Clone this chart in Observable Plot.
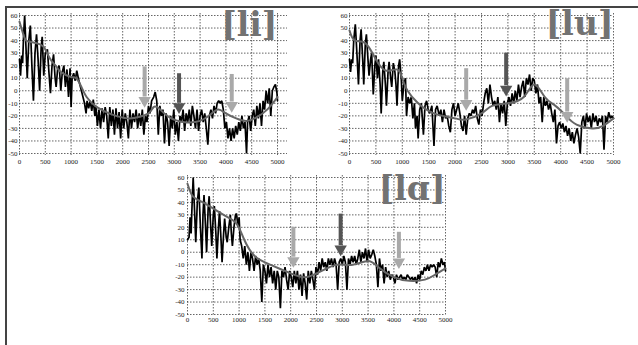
<!DOCTYPE html>
<html><head><meta charset="utf-8">
<script src="https://cdn.jsdelivr.net/npm/d3@7"></script>
<script src="https://cdn.jsdelivr.net/npm/@observablehq/plot@0.6"></script>
<style>
html,body{margin:0;padding:0;background:#fff;}
#wrap{position:relative;width:638px;height:345px;overflow:hidden;background:#fff;}
#wrap .p{position:absolute;}
#bt{position:absolute;left:5px;top:6px;width:633px;height:2px;background:#444;}
#bl{position:absolute;left:5px;top:6px;width:2px;height:339px;background:#444;}
</style></head>
<body><div id="wrap"><div id="bt"></div><div id="bl"></div></div>
<script>
const xTicks = [0,500,1000,1500,2000,2500,3000,3500,4000,4500,5000];
const yTicks = [-50,-40,-30,-20,-10,0,10,20,30,40,50,60];
const panelLabels = ["[li]", "[lu]", "[lɑ]"];

const liNoisy = [[0,25],[20,12],[40,28],[60,22],[80,45],[100,60],[130,30],[150,10],[180,40],[210,52],[240,20],[270,-8],[300,30],[330,45],[360,25],[390,0],[420,35],[440,43],[470,12],[500,30],[540,33],[570,15],[600,-2],[630,20],[660,29],[690,10],[710,3],[740,18],[770,20],[800,0],[830,15],[860,20],[890,3],[920,17],[950,-5],[980,18],[1000,-13],[1020,10],[1050,14],[1080,8],[1110,16],[1140,10],[1170,5],[1200,0],[1230,-5],[1260,-10],[1290,-18],[1310,-8],[1340,-14],[1370,-8],[1400,-16],[1430,-7],[1460,-20],[1480,-12],[1510,-28],[1540,-15],[1570,-30],[1600,-14],[1630,-25],[1660,-13],[1690,-20],[1720,-38],[1750,-13],[1780,-28],[1810,-15],[1840,-35],[1870,-14],[1900,-30],[1930,-17],[1960,-38],[1990,-15],[2020,-30],[2050,-18],[2080,-25],[2110,-38],[2140,-15],[2170,-30],[2200,-18],[2230,-25],[2260,-15],[2290,-30],[2320,-18],[2350,-28],[2380,-15],[2410,-35],[2440,-20],[2470,-25],[2500,-12],[2530,-18],[2560,-8],[2600,-5],[2630,-1],[2660,-8],[2690,-35],[2720,-12],[2750,-20],[2780,-15],[2810,-42],[2840,-18],[2870,-25],[2900,-44],[2930,-20],[2960,-30],[2990,-15],[3020,-35],[3050,-25],[3080,-40],[3110,-20],[3140,-25],[3170,-15],[3200,-32],[3230,-18],[3260,-25],[3290,-15],[3320,-28],[3350,-12],[3380,-20],[3410,-30],[3440,-15],[3470,-32],[3500,-20],[3530,-15],[3560,-25],[3590,-18],[3620,-30],[3650,-43],[3680,-20],[3710,-15],[3740,-22],[3770,-12],[3800,-18],[3830,-10],[3860,-8],[3890,-10],[3920,-8],[3950,-15],[3980,-30],[4010,-25],[4040,-38],[4070,-30],[4100,-40],[4130,-30],[4160,-38],[4190,-28],[4220,-35],[4250,-25],[4280,-32],[4310,-20],[4340,-30],[4370,-25],[4400,-50],[4420,-25],[4450,-20],[4480,-32],[4510,-20],[4540,-15],[4570,-28],[4600,-12],[4630,-22],[4660,-10],[4690,-28],[4720,-8],[4750,-15],[4780,0],[4810,-10],[4840,2],[4870,-20],[4900,0],[4930,3],[4960,5],[4990,-2],[5000,-8]];
const liSmooth = [[0,55],[100,42],[200,39],[400,37],[500,33],[600,25],[700,20],[800,15],[1000,11],[1100,10],[1200,3],[1300,-5],[1500,-13],[1800,-19],[2100,-22],[2300,-21],[2500,-18],[2600,-13],[2700,-14],[2900,-21],[3200,-25],[3500,-24],[3700,-19],[3850,-15],[4000,-18],[4200,-22],[4400,-24],[4600,-21],[4800,-15],[5000,-5]];
const liArrows = [[2425,19,-5,"light"],[3092,13.6,-10,"dark"],[4113,13,-9,"light"]];

const luNoisy = [[0,25],[20,15],[40,25],[60,22],[80,40],[110,53],[140,30],[170,5],[200,40],[220,49],[250,25],[270,5],[300,38],[320,45],[350,25],[370,12],[400,25],[420,30],[450,-3],[480,20],[500,28],[530,10],[550,25],[580,5],[600,-18],[630,15],[650,23],[680,5],[700,-12],[730,15],[750,23],[780,10],[800,3],[830,22],[860,15],[880,5],[900,-12],[930,20],[950,25],[980,10],[1000,-8],[1030,5],[1060,10],[1080,-20],[1110,-5],[1140,-10],[1170,-5],[1200,-22],[1230,-10],[1250,-30],[1280,-20],[1300,-38],[1330,-15],[1360,-10],[1400,-35],[1430,-12],[1460,-8],[1490,-15],[1520,-18],[1560,-12],[1600,-44],[1630,-15],[1660,-12],[1700,-20],[1730,-15],[1760,-25],[1790,-15],[1820,-22],[1850,-20],[1880,-28],[1910,-33],[1940,-15],[1970,-10],[2000,-20],[2030,-15],[2060,-10],[2090,-18],[2120,-28],[2150,-32],[2180,-20],[2210,-35],[2240,-22],[2270,-18],[2300,-20],[2330,-15],[2360,-18],[2390,-12],[2420,-22],[2450,-27],[2480,-15],[2510,-20],[2540,-10],[2570,-2],[2600,2],[2630,-10],[2660,5],[2690,-5],[2720,-12],[2750,-8],[2780,-15],[2810,-5],[2840,-25],[2870,-10],[2900,-18],[2930,-8],[2960,-28],[2990,-10],[3020,-5],[3050,-12],[3080,-2],[3110,-10],[3140,0],[3170,-8],[3200,5],[3230,-5],[3260,3],[3290,8],[3320,-5],[3350,10],[3380,5],[3410,13],[3440,0],[3470,10],[3500,8],[3530,-2],[3560,5],[3590,-10],[3620,-5],[3650,-25],[3680,-5],[3710,-12],[3740,-8],[3770,-15],[3800,-10],[3830,-18],[3860,-25],[3890,-15],[3920,-42],[3950,-28],[3980,-25],[4010,-30],[4040,-26],[4070,-33],[4100,-28],[4130,-36],[4160,-30],[4190,-40],[4220,-33],[4250,-42],[4280,-35],[4310,-30],[4340,-37],[4370,-50],[4400,-25],[4430,-20],[4460,-30],[4490,-18],[4520,-25],[4550,-20],[4580,-30],[4610,-18],[4640,-25],[4670,-20],[4700,-28],[4730,-22],[4760,-25],[4790,-20],[4820,-47],[4850,-20],[4880,-25],[4910,-17],[4940,-22],[4970,-20],[5000,-22]];
const luSmooth = [[0,48],[100,40],[300,38],[500,25],[700,16],[900,17],[1000,10],[1100,0],[1300,-10],[1600,-18],[2000,-22],[2200,-23],[2500,-18],[2700,-12],[3000,-10],[3300,-5],[3500,5],[3700,-5],[3900,-12],[4100,-20],[4300,-27],[4600,-30],[4800,-28],[5000,-22]];
const luArrows = [[2210,17.6,-7.5,"light"],[2967,30,4,"dark"],[4123,9.6,-17,"light"]];

const laNoisy = [[0,10],[30,12],[50,28],[70,15],[90,40],[110,60],[140,30],[160,8],[190,40],[220,52],[250,20],[280,-5],[300,30],[320,46],[350,20],[370,0],[400,35],[420,45],[450,20],[470,5],[500,30],[520,37],[550,15],[570,-5],[600,20],[620,33],[650,10],[670,-8],[700,15],[720,27],[750,12],[770,8],[800,20],[830,30],[850,15],[870,5],[900,20],[930,30],[950,31],[980,20],[1000,28],[1020,10],[1050,5],[1080,-5],[1110,5],[1140,-10],[1170,0],[1200,-15],[1230,0],[1260,-5],[1290,-15],[1320,-3],[1350,-10],[1380,-5],[1410,-15],[1440,-40],[1470,-10],[1500,-15],[1530,-25],[1560,-10],[1590,-20],[1620,-12],[1650,-25],[1680,-15],[1710,-30],[1740,-15],[1770,-20],[1800,-45],[1830,-15],[1860,-20],[1890,-12],[1920,-22],[1950,-30],[1980,-15],[2010,-20],[2040,-28],[2070,-15],[2100,-25],[2130,-15],[2160,-30],[2190,-18],[2220,-35],[2250,-17],[2280,-25],[2310,-38],[2340,-15],[2370,-25],[2400,-15],[2430,-22],[2460,-30],[2490,-12],[2520,-18],[2550,-8],[2580,-15],[2610,-5],[2640,-12],[2670,-8],[2700,-15],[2730,-5],[2760,-10],[2790,-5],[2820,-12],[2850,-5],[2880,-10],[2910,-30],[2940,-8],[2970,-5],[3000,-10],[3030,-3],[3060,-8],[3090,-30],[3120,-5],[3150,-10],[3180,-3],[3210,-8],[3240,-3],[3270,-10],[3300,-5],[3330,2],[3360,-8],[3390,0],[3420,-5],[3450,3],[3480,-8],[3510,2],[3540,-5],[3570,-2],[3600,2],[3630,-3],[3660,-10],[3690,-28],[3720,-5],[3750,-15],[3780,-10],[3810,-25],[3840,-12],[3870,-20],[3900,-15],[3930,-22],[3960,-18],[3990,-20],[4020,-25],[4050,-18],[4080,-22],[4110,-20],[4140,-18],[4170,-22],[4200,-20],[4230,-22],[4260,-18],[4290,-20],[4320,-22],[4350,-20],[4380,-23],[4410,-20],[4440,-25],[4470,-18],[4500,-22],[4530,-15],[4560,-18],[4590,-12],[4620,-15],[4650,-10],[4680,-15],[4710,-10],[4740,-12],[4770,-10],[4800,-12],[4830,-20],[4860,-8],[4890,-12],[4920,-5],[4950,-10],[4980,-8],[5000,-15]];
const laSmooth = [[0,55],[100,45],[300,40],[700,30],[950,23],[1100,10],[1300,-3],[1600,-10],[2000,-17],[2300,-20],[2600,-15],[2900,-10],[3200,-10],[3500,-7],[3700,-12],[4000,-20],[4300,-23],[4600,-22],[4800,-18],[5000,-13]];
const laArrows = [[2052,20,-4,"light"],[2968,30.6,5.3,"dark"],[4097,16,-5,"light"]];

const arrowColor = {light: "#a9a9a9", dark: "#555555"};
const tickFont = "'Liberation Serif', 'Times New Roman', serif";

function panel(o) {
  const arrows = o.arrows.map(([x, top, end, kind]) => ({x, top, end, color: arrowColor[kind]}));
  const chart = Plot.plot({
    width: o.width, height: o.height,
    marginLeft: o.ml, marginRight: o.mr, marginTop: o.mt, marginBottom: o.mb,
    style: {fontFamily: tickFont, fontSize: "7px", color: "#222", background: "transparent"},
    x: {domain: [0, 5000], label: null},
    y: {domain: [-50, 60], label: null},
    marks: [
      Plot.gridX(xTicks, {stroke: "#333", strokeOpacity: 0.75, strokeDasharray: "1.5,1.5", insetTop: -2, insetBottom: -2}),
      Plot.gridY(yTicks, {stroke: "#333", strokeOpacity: 0.75, strokeDasharray: "1.5,1.5", insetRight: -o.gridExt}),
      Plot.axisX(xTicks, {label: null, tickSize: 0, tickPadding: o.xPad, tickFormat: d => String(d), fill: "#222", fontFamily: tickFont, fontSize: 7}),
      Plot.axisY(yTicks, {label: null, tickSize: 0, tickPadding: o.yPad, tickFormat: d => String(d), fill: "#222", fontFamily: tickFont, fontSize: 7}),
      Plot.line(o.noisy, {x: d => d[0], y: d => d[1], stroke: "#000", strokeWidth: 1.7, strokeLinejoin: "miter"}),
      Plot.line(o.smooth, {x: d => d[0], y: d => d[1], stroke: "#666", strokeWidth: 2, curve: "natural"}),
      Plot.ruleX(arrows, {x: "x", y1: "top", y2: "end", stroke: "color", strokeWidth: 4}),
      Plot.dot(arrows, {x: "x", y: "end", symbol: "triangle", rotate: 180, r: 4.6, fill: "color", stroke: "none", dy: 3.5}),
      Plot.text([o.label], {text: d => d, frameAnchor: "top-right", lineAnchor: "top", textAnchor: "end",
        fontFamily: "'DejaVu Serif', serif", fontWeight: "bold", fontSize: 33, fill: "#727272", dy: o.labelDy, dx: o.labelDx})
    ]
  });
  const div = document.createElement("div");
  div.className = "p";
  div.style.left = o.left + "px";
  div.style.top = o.top + "px";
  div.appendChild(chart);
  document.getElementById("wrap").appendChild(div);
}

panel({left: 0, top: 0, width: 300, height: 172, ml: 19, mr: 23, mt: 15, mb: 19, gridExt: 10, xPad: 6, yPad: 2,
  noisy: liNoisy, smooth: liSmooth, arrows: liArrows, label: panelLabels[0], labelDy: -3, labelDx: 0});
panel({left: 318, top: 0, width: 315, height: 172, ml: 31, mr: 20, mt: 15, mb: 19, gridExt: 0, xPad: 6, yPad: 2,
  noisy: luNoisy, smooth: luSmooth, arrows: luArrows, label: panelLabels[1], labelDy: -4, labelDx: 0});
panel({left: 160, top: 165, width: 300, height: 180, ml: 27, mr: 15, mt: 12, mb: 31, gridExt: 0, xPad: 3, yPad: 3,
  noisy: laNoisy, smooth: laSmooth, arrows: laArrows, label: panelLabels[2], labelDy: -1, labelDx: 0});
</script>
</body></html>
